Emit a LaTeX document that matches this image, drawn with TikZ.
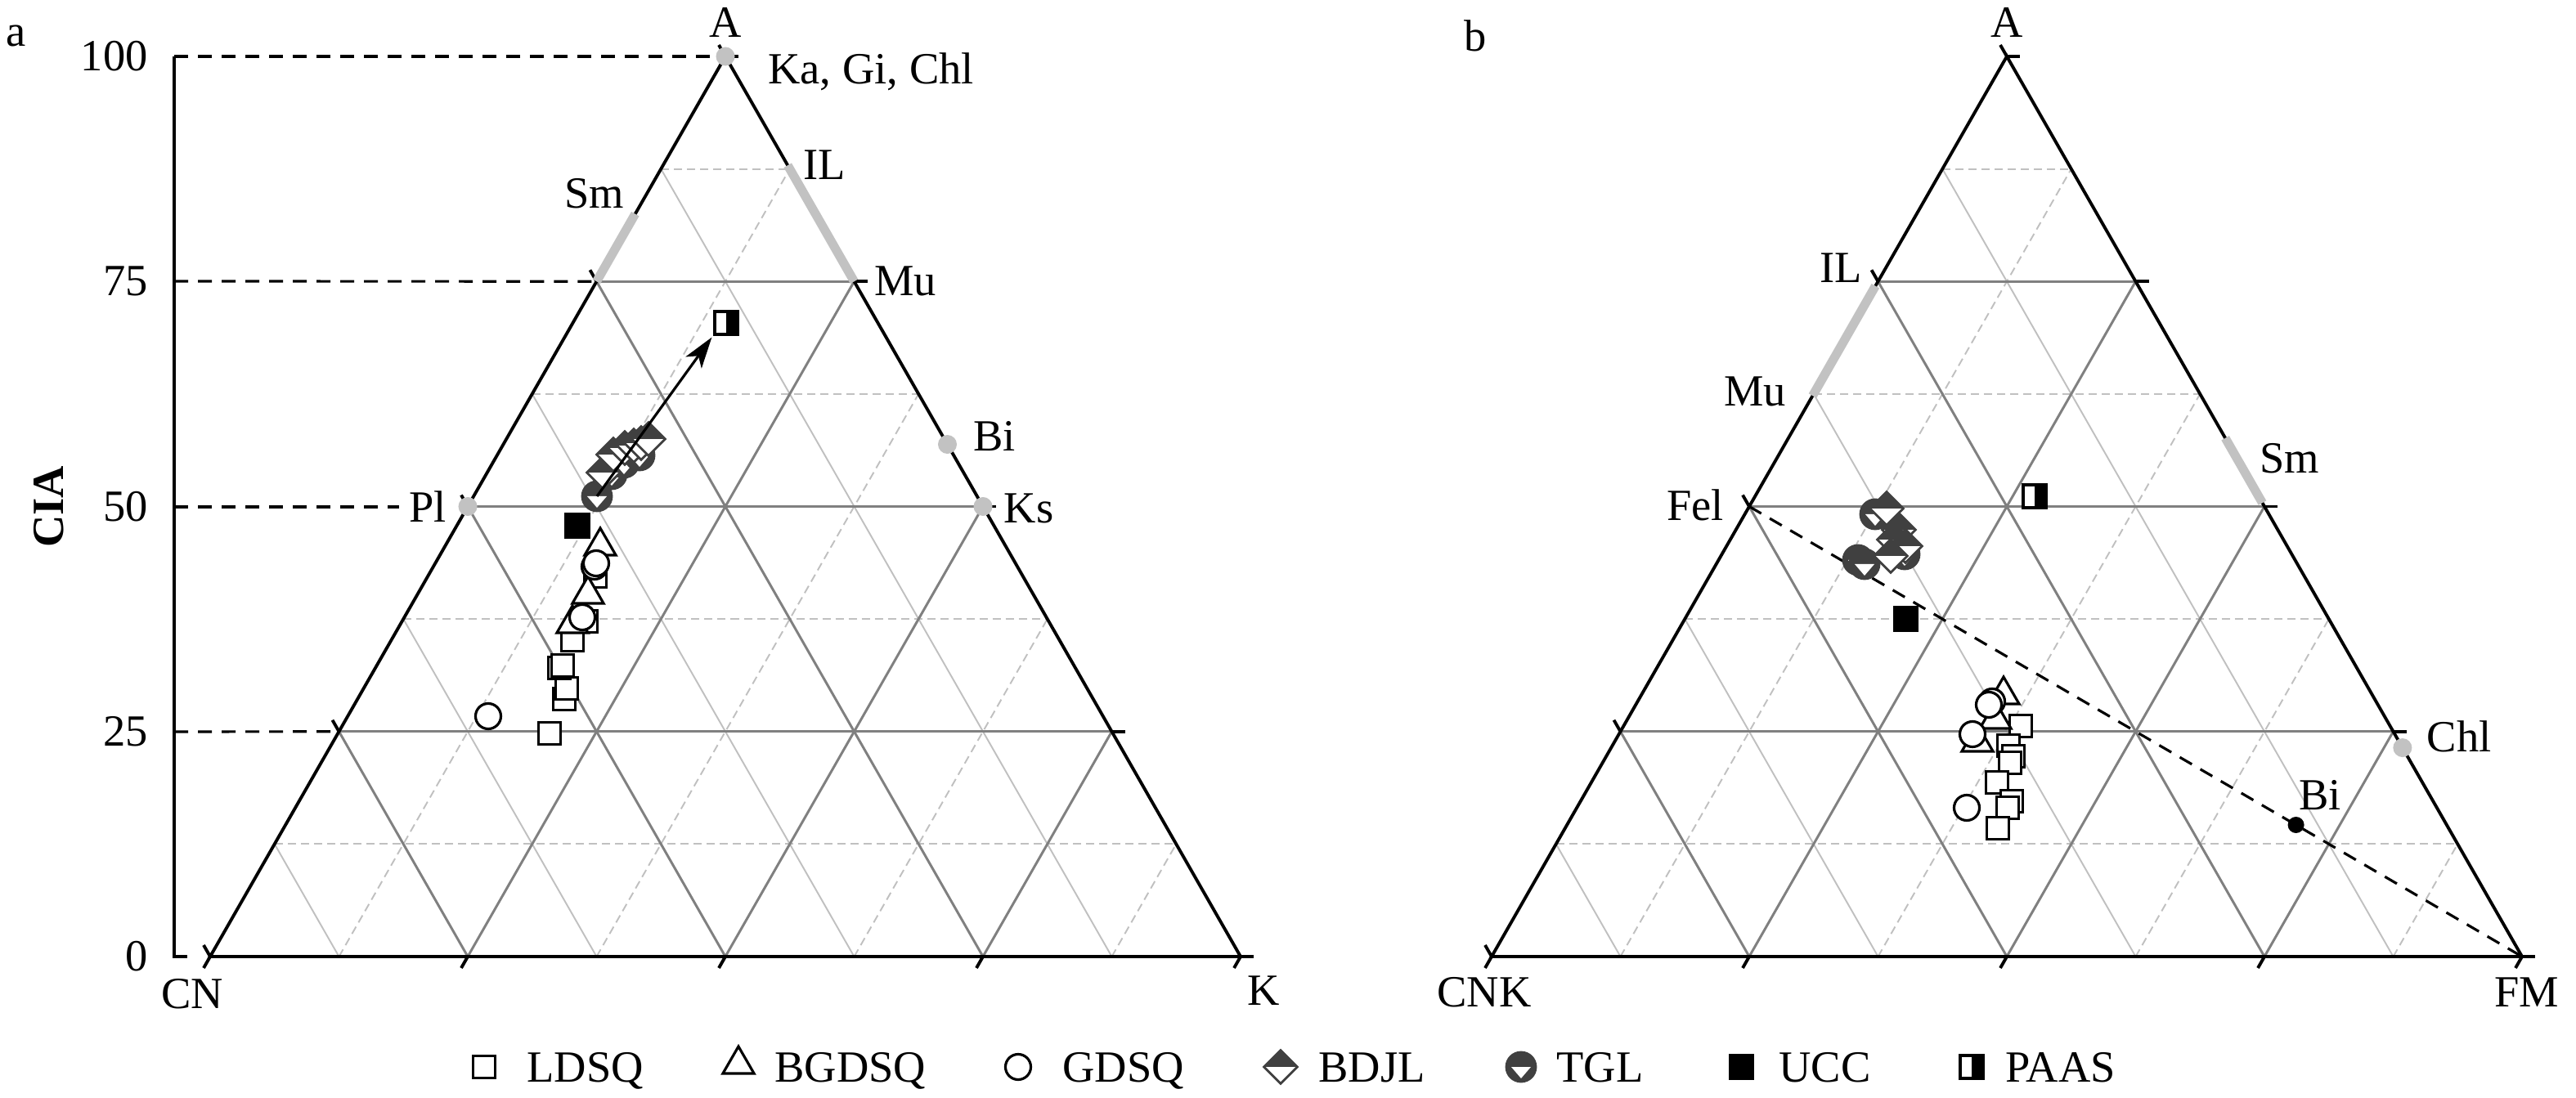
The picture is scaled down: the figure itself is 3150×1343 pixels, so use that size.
\documentclass[tikz,border=0pt]{standalone}
\usepackage{fontspec}
\setmainfont{Liberation Serif}
\usetikzlibrary{calc,shapes.geometric,arrows.meta}

\definecolor{gridmaj}{HTML}{808080}
\definecolor{gridmin}{HTML}{C0C0C0}
\definecolor{dgray}{HTML}{404040}
\definecolor{mineral}{HTML}{C2C2C2}

\newcommand{\lblfont}{\fontsize{15.5}{18}\selectfont}

\tikzset{
  frame/.style={line width=1.1pt},
  majgrid/.style={gridmaj, line width=0.85pt},
  mingrid/.style={gridmin, line width=0.55pt},
  mindash/.style={mingrid, dash pattern=on 0.1cm off 0.06cm},
  guide/.style={line width=0.9pt, dash pattern=on 0.17cm off 0.12cm},
  band/.style={mineral, line width=0.11cm},
  mdot/.style={circle, fill=mineral, inner sep=0pt, minimum size=0.23cm},
  ldsq/.style={rectangle, draw, fill=white, line width=0.9pt, minimum size=0.27cm, inner sep=0pt},
  bgdsq/.style={regular polygon, regular polygon sides=3, draw, fill=white, line width=0.9pt, minimum size=0.44cm, inner sep=0pt},
  gdsq/.style={circle, draw, fill=white, line width=0.9pt, minimum size=0.31cm, inner sep=0pt},
  bdjl/.style={diamond, draw=dgray, fill=white, line width=0.8pt, minimum size=0.42cm, inner sep=0pt,
    path picture={\fill[dgray] (path picture bounding box.north west) rectangle (path picture bounding box.east);}},
  tgl/.style={circle, draw=dgray, fill=dgray, line width=0.8pt, minimum size=0.36cm, inner sep=0pt,
    path picture={\fill[white] ([xshift=-0.12cm]path picture bounding box.center) -- ([xshift=0.12cm]path picture bounding box.center) -- ([yshift=-0.14cm]path picture bounding box.center) -- cycle;}},
  ucc/.style={rectangle, fill=black, minimum size=0.31cm, inner sep=0pt},
  paas/.style={rectangle, draw, fill=white, line width=0.9pt, minimum size=0.28cm, inner sep=0pt,
    path picture={\fill[black] (path picture bounding box.north) rectangle (path picture bounding box.south east);}},
  arr/.style={-{Stealth[length=0.38cm,width=0.24cm,inset=0.1cm]}, line width=0.9pt},
}

% ternary grid, frame and ticks: #1 left, #2 right, #3 top
\newcommand{\terngrid}[3]{%
  \foreach \f in {0.125,0.375,0.625,0.875}{
    \draw[mindash] ($(#1)!\f!(#3)$) -- ($(#2)!\f!(#3)$);
    \draw[mindash] ($(#1)!\f!(#2)$) -- ($(#2)!{1-\f}!(#3)$);
    \draw[mingrid] ($(#1)!\f!(#2)$) -- ($(#1)!\f!(#3)$);
  }
  \foreach \f in {0.25,0.5,0.75}{
    \draw[majgrid] ($(#1)!\f!(#3)$) -- ($(#2)!\f!(#3)$);
    \draw[majgrid] ($(#1)!\f!(#2)$) -- ($(#2)!{1-\f}!(#3)$);
    \draw[majgrid] ($(#1)!\f!(#2)$) -- ($(#1)!\f!(#3)$);
  }
  \draw[frame] (#1) -- (#2) -- (#3) -- cycle;
  \foreach \f in {0,0.25,0.5,0.75,1}{
    \draw[frame] ($(#1)!\f!(#2)$) -- ++(-8,14);
    \draw[frame] ($(#1)!\f!(#3)$) -- ++(-8,-14);
    \draw[frame] ($(#2)!\f!(#3)$) -- ++(16,0);
  }
}

\begin{document}
\begin{tikzpicture}[x=0.01cm, y=-0.01cm, font=\lblfont]
\useasboundingbox (0,0) rectangle (3150,1343);

% (a) A-CN-K
\coordinate (CN) at (257,1170);
\coordinate (K) at (1517,1170);
\coordinate (A) at (887,69);
\terngrid{CN}{K}{A}

\coordinate (y100) at (213,69);
\coordinate (y75) at (213,344);
\coordinate (y50) at (213,620);
\coordinate (y25) at (213,895);
\coordinate (y0) at (213,1170);
\draw[frame] (y100) -- (y0) -- ++(16,0);
\foreach \v/\yy in {100/69,75/344,50/620,25/895,0/1170}
  \node[anchor=east] (yl\v) at (193,\yy) {\v};
\node[rotate=90, font=\lblfont\bfseries] (cia) at (60,620) {CIA};
\node (pa) at (20,44) {a};

\coordinate (a75) at ($(CN)!0.75!(A)$);
\coordinate (a25) at ($(CN)!0.25!(A)$);
\node (Pl) at (523,620) {Pl};
\draw[guide] (y100) -- (A);
\draw[guide] (y75) -- (a75);
\draw[guide] (y50) -- (Pl.west);
\draw[guide] (y25) -- (a25);

\draw[band] ($(CN)!0.75!(A)$) -- ($(CN)!0.825!(A)$);
\draw[band] ($(K)!0.75!(A)$) -- ($(K)!0.879!(A)$);
\node[mdot] (dA) at (A) {};
\node[mdot] (dPl) at ($(CN)!0.5!(A)$) {};
\node[mdot] (dKs) at ($(K)!0.5!(A)$) {};
\node[mdot] (dBi) at ($(K)!0.569!(A)$) {};

\node (tA) at (887,28) {A};
\node[anchor=west] (tKa) at (927,88) {Ka, Gi, Chl};
\node (tIL) at (1008,202) {IL};
\node (tSm) at (727,237) {Sm};
\node (tMu) at (1107,344) {Mu};
\node (tBi) at (1216,534) {Bi};
\node (tKs) at (1258,622) {Ks};
\node (tCN) at (235,1216) {CN};
\node (tK) at (1545,1212) {K};

% samples (a)
\foreach \x/\y [count=\i] in {672/897,690/855,693/842,684/817,688/814,700/783,717/760,728/705}
  \node[ldsq] (aL\i) at (\x,\y) {};
\foreach \x/\y [count=\i] in {734/668,719/727,700/763}
  \node[bgdsq] (aB\i) at (\x,\y) {};
\foreach \x/\y [count=\i] in {727/693,729/689,712/755,597/876}
  \node[gdsq] (aG\i) at (\x,\y) {};
\foreach \x/\y [count=\i] in {730/607,748/580,763/566,782/557}
  \node[tgl] (aT\i) at (\x,\y) {};
\foreach \x/\y [count=\i] in {738/578,750/556,764/548,775/545,784/542,793/537}
  \node[bdjl] (aD\i) at (\x,\y) {};
\node[ucc] (aU) at (706,643) {};
\node[paas] (aP) at (888,395) {};
\draw[arr] (aT1.center) -- ([shift={(-2,2)}]aP.south west);

% (b) A-CNK-FM
\coordinate (CNK) at (1824,1170);
\coordinate (FM) at (3084,1170);
\coordinate (Ab) at (2454,69);
\terngrid{CNK}{FM}{Ab}
\node (pb) at (1804,44) {b};

\coordinate (Fel) at ($(CNK)!0.5!(Ab)$);
\draw[guide] (Fel) -- (FM);
\draw[band] ($(CNK)!0.623!(Ab)$) -- ($(CNK)!0.745!(Ab)$);
\draw[band] ($(FM)!0.504!(Ab)$) -- ($(FM)!0.576!(Ab)$);
\node[mdot] (dChl) at ($(FM)!0.232!(Ab)$) {};
\node[circle, fill=black, inner sep=0pt, minimum size=0.2cm] (dBib) at ($(Fel)!0.7075!(FM)$) {};

\node (tAb) at (2454,28) {A};
\node (tILb) at (2251,328) {IL};
\node (tMub) at (2146,479) {Mu};
\node (tFel) at (2073,618) {Fel};
\node (tSmb) at (2800,561) {Sm};
\node (tChl) at (3007,901) {Chl};
\node (tBib) at (2837,973) {Bi};
\node (tCNK) at (1815,1214) {CNK};
\node (tFM) at (3090,1214) {FM};

% samples (b)
\foreach \x/\y [count=\i] in {2471/888,2456/912,2462/925,2458/933,2442/957,2460/980,2455/988,2443/1013}
  \node[ldsq] (bL\i) at (\x,\y) {};
\foreach \x/\y [count=\i] in {2450/850,2440/880,2418/908}
  \node[bgdsq] (bB\i) at (\x,\y) {};
\foreach \x/\y [count=\i] in {2436/858,2432/862,2412/898,2405/988}
  \node[gdsq] (bG\i) at (\x,\y) {};
\foreach \x/\y [count=\i] in {2293/629,2272/685,2329/678,2280/690}
  \node[tgl] (bT\i) at (\x,\y) {};
\foreach \x/\y [count=\i] in {2307/622,2322/648,2316/660,2330/668,2312/680}
  \node[bdjl] (bD\i) at (\x,\y) {};
\node[ucc] (bU) at (2330,757) {};
\node[paas] (bP) at (2488,607) {};

% legend
\node[ldsq] (kL) at (592,1305) {};
\node[anchor=base west] (kLt) at (632,1323) {LDSQ};
\node[bgdsq] (kB) at (903,1302) {};
\node[anchor=base west] (kBt) at (935,1323) {BGDSQ};
\node[gdsq] (kG) at (1245,1305) {};
\node[anchor=base west] (kGt) at (1287,1323) {GDSQ};
\node[bdjl] (kD) at (1566,1305) {};
\node[anchor=base west] (kDt) at (1600,1323) {BDJL};
\node[tgl] (kT) at (1860,1305) {};
\node[anchor=base west] (kTt) at (1891,1323) {TGL};
\node[ucc] (kU) at (2129,1305) {};
\node[anchor=base west] (kUt) at (2163,1323) {UCC};
\node[paas] (kP) at (2411,1305) {};
\node[anchor=base west] (kPt) at (2440,1323) {PAAS};
\end{tikzpicture}
\end{document}
